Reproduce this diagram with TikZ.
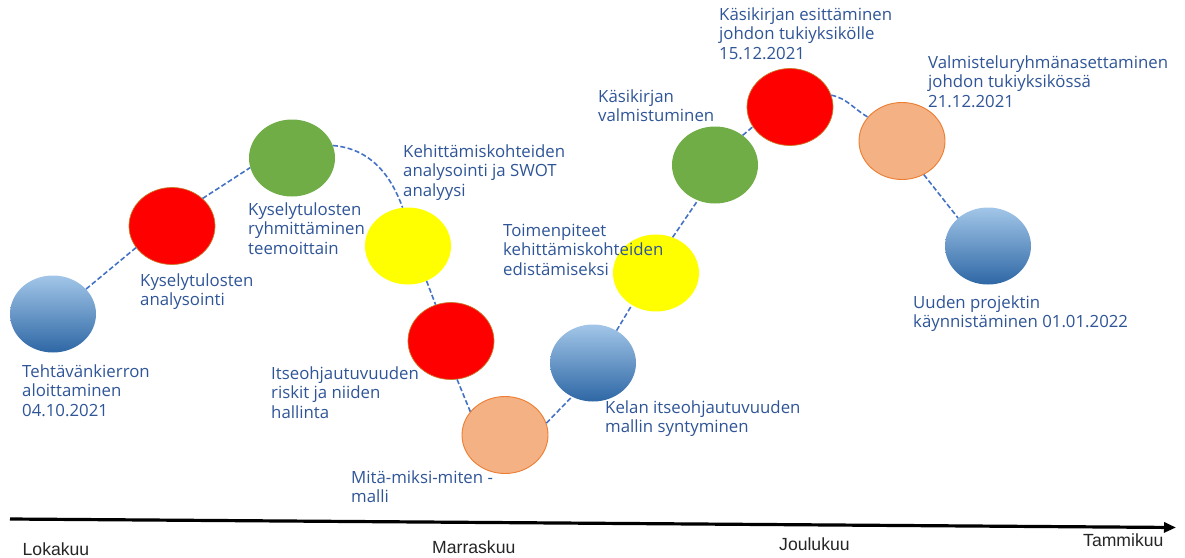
\documentclass[tikz,border=0pt]{standalone}
\usepackage{fontspec}
\setmainfont{Open Sans}
\newfontfamily\monthfont{Liberation Sans}
\usetikzlibrary{arrows.meta,shapes.geometric}
\definecolor{txtblue}{HTML}{2F5597}
\definecolor{linkblue}{HTML}{4472C4}
\definecolor{phred}{HTML}{FF0000}
\definecolor{phredrim}{HTML}{C87A2A}
\definecolor{phgreen}{HTML}{70AD47}
\definecolor{phyellow}{HTML}{FFFF00}
\definecolor{phorange}{HTML}{F4B183}
\definecolor{phorangerim}{HTML}{ED7D31}
\definecolor{bluetop}{HTML}{A2C6E8}
\definecolor{bluemid}{HTML}{6AA1D8}
\definecolor{bluebot}{HTML}{2E67A5}
\tikzset{
  phase/.style={ellipse, minimum width=86pt, minimum height=77pt, inner sep=0pt},
  bluephase/.style={phase, top color=bluetop, middle color=bluemid, bottom color=bluebot},
  redphase/.style={phase, fill=phred, draw=phredrim, line width=0.7pt},
  greenphase/.style={phase, fill=phgreen},
  yellowphase/.style={phase, fill=phyellow},
  orangephase/.style={phase, fill=phorange, draw=phorangerim, line width=0.9pt},
  link/.style={draw=linkblue, line width=1.6pt, dash pattern=on 5pt off 2.5pt},
  % anchored at the baseline of the last line
  lbl/.style={text=txtblue, align=left, anchor=base west, inner sep=0pt,
    font=\fontsize{16.8}{19.7}\selectfont},
  month/.style={anchor=base west, inner sep=0pt, text=black!85,
    font=\monthfont\fontsize{17.6}{18}\selectfont}
}
\begin{document}
\begin{tikzpicture}[x=1pt,y=1pt]
\useasboundingbox (0,0) rectangle (1185,-557);

% phases
\node[bluephase]   (c1)  at (53,-314)  {};
\node[redphase]    (c2)  at (172,-226) {};
\node[greenphase]  (c3)  at (292,-158) {};
\node[yellowphase] (c4)  at (408,-246) {};
\node[redphase]    (c5)  at (451,-341) {};
\node[orangephase] (c6)  at (505,-435) {};
\node[bluephase]   (c7)  at (593,-363) {};
\node[yellowphase] (c8)  at (656,-273) {};
\node[greenphase]  (c9)  at (715,-165) {};
\node[redphase]    (c10) at (790,-107) {};
\node[orangephase] (c11) at (902,-141) {};
\node[bluephase]   (c12) at (988,-246) {};

% dashed path between phases
\draw[link] (c1.37) -- (c2.211);
\draw[link] (c2.42) -- (c3.193);
\draw[link] (c3.17) to[out=-5,in=110] (c4.98);
\draw[link] (c4.298) -- (c5.113);
\draw[link] (c5.279) -- (c6.146);
\draw[link] (c6.16) -- (c7.238);
\draw[link] (c7.54) -- (c8.233);
\draw[link] (c8.65) -- (c9.244);
\draw[link] (c9.47) -- (c10.208);
\draw[link] (c10.16) to[out=-12,in=150] (c11.145);
\draw[link] (c11.303) -- (c12.137);

% phase descriptions
\node[lbl] (t1)  at (22,-416.4)  {Tehtävänkierron\\aloittaminen\\04.10.2021};
\node[lbl] (t2)  at (140,-305.7) {Kyselytulosten\\analysointi};
\node[lbl] (t3)  at (248,-254.4) {Kyselytulosten\\ryhmittäminen\\teemoittain};
\node[lbl] (t4)  at (403,-196.4) {Kehittämiskohteiden\\analysointi ja SWOT\\analyysi};
\node[lbl] (t5)  at (271,-418.4) {Itseohjautuvuuden\\riskit ja niiden\\hallinta};
\node[lbl] (t6)  at (351,-502.7) {Mitä-miksi-miten -\\malli};
\node[lbl] (t7)  at (605,-432.7) {Kelan itseohjautuvuuden\\mallin syntyminen};
\node[lbl] (t8)  at (503,-275.4) {Toimenpiteet\\kehittämiskohteiden\\edistämiseksi};
\node[lbl] (t9)  at (598,-121.7) {Käsikirjan\\valmistuminen};
\node[lbl] (t10) at (719,-59.4)  {Käsikirjan esittäminen\\johdon tukiyksikölle\\15.12.2021};
\node[lbl] (t11) at (928,-107.4) {Valmisteluryhmänasettaminen\\johdon tukiyksikössä\\21.12.2021};
\node[lbl] (t12) at (913,-327.7) {Uuden projektin\\käynnistäminen 01.01.2022};

% time axis
\coordinate (ax0) at (10,-519);
\coordinate (ax1) at (1176,-527.5);
\draw[line width=3.2pt, -{Triangle[length=12pt,width=10pt]}] (ax0) -- (ax1);
\node[month] (m1) at (22.5,-555)  {Lokakuu};
\node[month] (m2) at (432,-553)   {Marraskuu};
\node[month] (m3) at (779,-550.5) {Joulukuu};
\node[month] (m4) at (1083,-546)  {Tammikuu};
\end{tikzpicture}
\end{document}
